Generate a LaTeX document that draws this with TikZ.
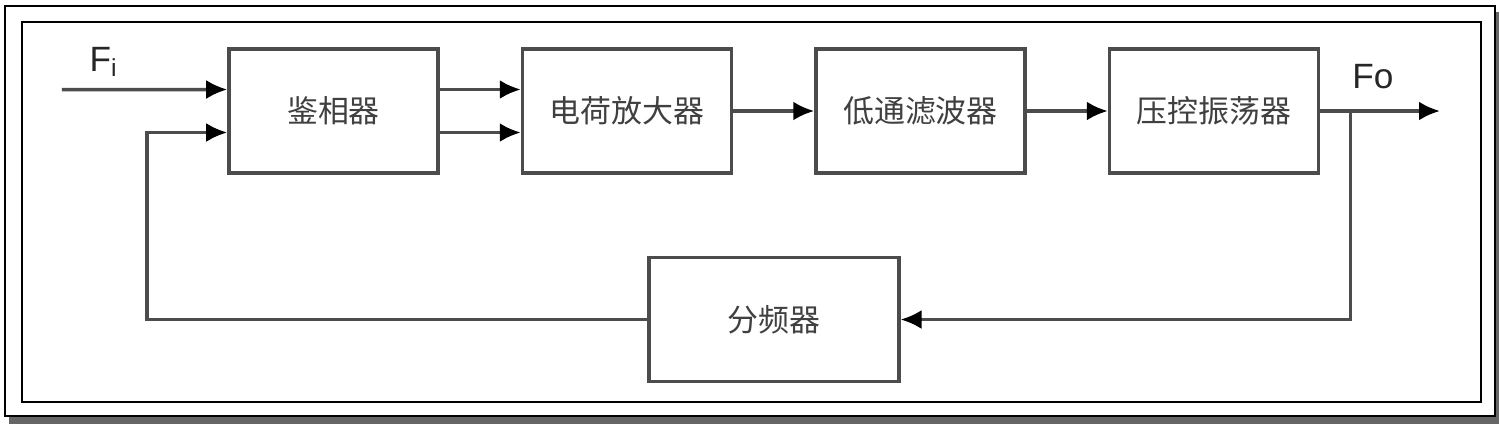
\documentclass[tikz,border=0pt]{standalone}
\usepackage{fontspec}
\setmainfont{Liberation Sans}
\newfontfamily\cjk{Noto Sans CJK SC}
\usepackage{tikz}
\usetikzlibrary{arrows,arrows.meta,positioning,calc}

\begin{document}
\begin{tikzpicture}
[ node distance=8.1mm and 8.1mm,
		block/.style={rectangle,draw=black!70,line width=1pt,minimum width=2.09cm,minimum height=1.24cm,inner sep=0pt,text=black!75,font=\cjk\fontsize{8.8}{10}\selectfont},
		signal/.style={text=black!85,font=\fontsize{10}{12}\selectfont},
		arrowOut/.style={-{Latex[length=2.1mm,width=1.9mm,color=black]},draw=black!70,line width=1pt},
		frame/.style={draw=black,line width=0.7pt}]

	\useasboundingbox (0,0) rectangle (15,4.29);
	% frame and its shadow
	\fill[black!60] (0.09,0.05) rectangle (14.99,4.17);
	\filldraw[frame,fill=white] (0.05,0.13) rectangle (14.95,4.23);
	\draw[frame] (0.22,0.27) rectangle (14.81,4.07);

	\node[block] (phase detector) at (3.335,3.18) {鉴相器};
	\node[block] (charge amp) [right=of phase detector] {电荷放大器};
	\node[block] (low pass) [right=of charge amp] {低通滤波器};
	\node[block] (vco) [right=of low pass] {压控振荡器};
	\coordinate (mid) at ($(charge amp.south)!0.5!(low pass.south)$);
	\node[block,minimum width=2.5cm] (divider) [below=of mid] {分频器};

	\node[signal] (fi label) at (1.04,3.67) {F\textsubscript{i}};
	\node[signal] (fo label) at (13.73,3.52) {Fo};

	\coordinate (fi) at (0.62,3.395);
	\coordinate (fb in) at ($(phase detector.west)+(0,-0.215)$);
	\coordinate (fb corner) at (1.47,0 |- fb in);
	\coordinate (branch) at ($(vco.east)+(0.3,0)$);
	\coordinate (fo) at (14.40,3.18);

	\draw[arrowOut] (fi) -- ($(phase detector.west)+(0,0.215)$);
	\draw[arrowOut] ($(phase detector.east)+(0,0.215)$) -- ($(charge amp.west)+(0,0.215)$);
	\draw[arrowOut] ($(phase detector.east)+(0,-0.215)$) -- ($(charge amp.west)+(0,-0.215)$);
	\draw[arrowOut] (charge amp) -- (low pass);
	\draw[arrowOut] (low pass) -- (vco);
	\draw[arrowOut] (vco) -- (fo);
	\draw[arrowOut] (branch) |- (divider);
	\draw[arrowOut] (divider.west) -| (fb corner) -- (fb in);
\end{tikzpicture}
\end{document}
